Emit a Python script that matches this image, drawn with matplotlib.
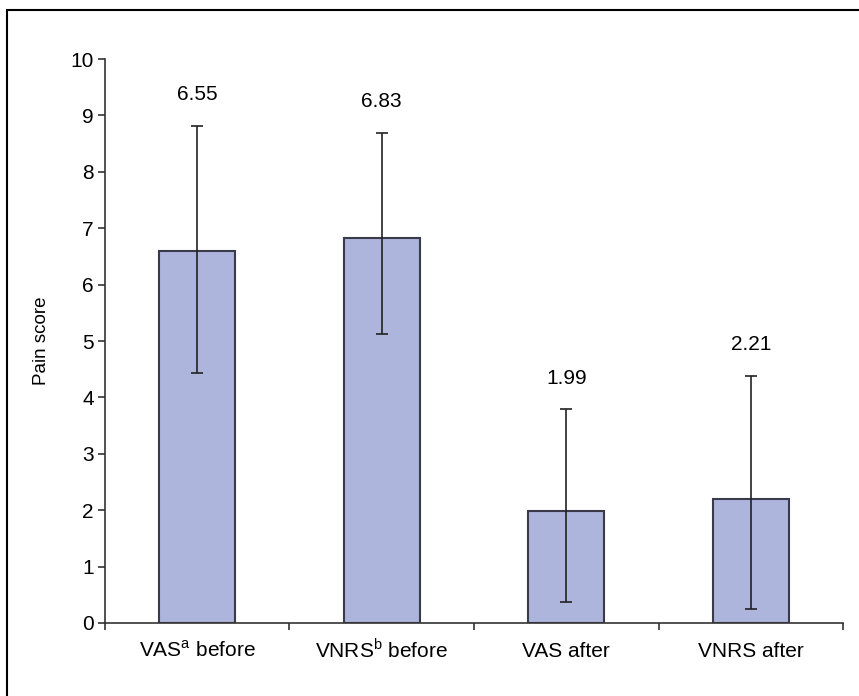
import numpy as np
from matplotlib import pyplot as plt
from matplotlib.patches import Rectangle

plt.rcParams["font.family"] = ["Liberation Sans", "DejaVu Sans"]
plt.rcParams["mathtext.fontset"] = "custom"
plt.rcParams["mathtext.rm"] = "Liberation Sans"

categories = ["VAS$^\\mathregular{a}$ before", "VNRS$^\\mathregular{b}$ before", "VAS after", "VNRS after"]
labels = ["6.55", "6.83", "1.99", "2.21"]
heights = [6.6, 6.83, 1.99, 2.2]
err_low = [4.43, 5.13, 0.37, 0.25]
err_high = [8.82, 8.69, 3.79, 4.38]

fig = plt.figure(figsize=(8.59, 6.96), dpi=100)
ax = fig.add_axes([0.1222, 0.1049, 0.8592, 0.8103])

x = np.arange(len(categories))
h = np.array(heights)
yerr = [h - np.array(err_low), np.array(err_high) - h]
ax.bar(x, h, width=0.41, color="#aeb5dd", edgecolor="#3a3a48", linewidth=1.5, zorder=2)
ax.errorbar(x, h, yerr=yerr, fmt="none", ecolor="#222222", elinewidth=1.2,
            capsize=4.5, capthick=1.2, zorder=3)

for xi, top, lab in zip(x, err_high, labels):
    ax.text(xi, top + 0.55, lab, ha="center", va="center", fontsize=15)

ax.set_xlim(-0.5, 3.5)
ax.set_ylim(0, 10)
ax.set_yticks(range(0, 11))
ax.set_xticks(np.arange(-0.5, 4, 1.0))
ax.set_xticklabels([])
ax.set_xticks(x, minor=True)
ax.set_xticklabels(categories, minor=True, fontsize=15)
for t in ax.get_xticklabels(minor=True):
    t.set_verticalalignment("baseline")
ax.tick_params(axis="x", which="minor", length=0, pad=24.5)
ax.tick_params(axis="x", which="major", length=5, width=1.2, color="#333333")
ax.tick_params(axis="y", length=5, width=1.2, color="#333333", labelsize=15, pad=3)
ax.set_ylabel("Pain score", fontsize=13.5, labelpad=15)

for s in ["top", "right"]:
    ax.spines[s].set_visible(False)
for s in ["left", "bottom"]:
    ax.spines[s].set_linewidth(1.2)
    ax.spines[s].set_color("#333333")

fig.add_artist(Rectangle((7 / 859, -0.2), 1.5, 1.2 - 10 / 696, transform=fig.transFigure,
                         fill=False, linewidth=1.5, edgecolor="black"))

fig.savefig("out.png", dpi=100)
